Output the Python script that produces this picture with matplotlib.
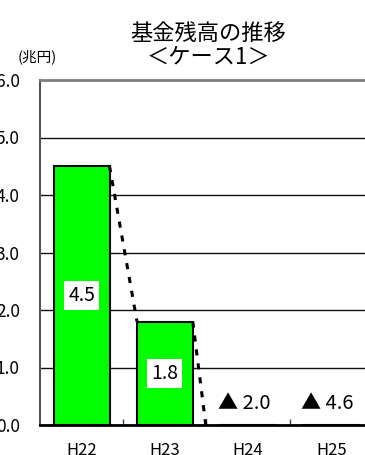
import matplotlib
matplotlib.use("Agg")
import matplotlib.pyplot as plt

plt.rcParams['font.family'] = ['Noto Sans CJK JP', 'DejaVu Sans']

categories = ["H22", "H23", "H24", "H25"]
balances = [4.5, 1.8, -2.0, -4.6]
yticks = [0.0, 1.0, 2.0, 3.0, 4.0, 5.0, 6.0]
title = "基金残高の推移\n＜ケース1＞"
unit = "(兆円)"

fig = plt.figure(figsize=(3.65, 4.55), dpi=100)
ax = fig.add_axes([40 / 365, 30 / 455, 333 / 365, 345 / 455])

x = list(range(len(categories)))
bar_w = 0.67
ax.bar(x, balances, width=bar_w, color="#00ff00", edgecolor="black",
       linewidth=1.5, zorder=3)

# series lines joining neighbouring bar tops
for i in range(len(balances) - 1):
    ax.plot([i + bar_w / 2, i + 1 - bar_w / 2], [balances[i], balances[i + 1]],
            color="black", linewidth=2.2, linestyle=(0, (2.0, 2.6)),
            zorder=4, solid_capstyle="butt")

# value labels
for i, v in enumerate(balances):
    if v >= 0:
        ax.text(i, v / 2, f"{v:.1f}", ha="center", va="center", fontsize=14,
                zorder=5,
                bbox=dict(boxstyle="square,pad=0.2", facecolor="white",
                          edgecolor="none"))
    else:
        ax.text(i - 0.05, 0.38, f"▲ {abs(v):.1f}", ha="center", va="center",
                fontsize=14.5, zorder=5)

ax.set_xlim(-0.5, 3.5)
ax.set_ylim(0, 6)
ax.set_yticks(yticks)
ax.set_yticklabels([f"{t:.1f}" for t in yticks], fontsize=12.5)
ax.set_xticks(x)
ax.set_xticklabels(categories, fontsize=12)
ax.set_xticks([0.5, 1.5, 2.5], minor=True)
ax.tick_params(axis="y", length=0, pad=14.5)
ax.tick_params(axis="x", which="major", length=0, pad=12)
ax.tick_params(axis="x", which="minor", length=4, width=1, direction="in",
               color="#444444")

ax.yaxis.grid(True, color="#111111", linewidth=1.0, zorder=0)
ax.set_axisbelow(True)

ax.spines["top"].set_color("#808080")
ax.spines["top"].set_linewidth(2)
ax.spines["left"].set_color("#555555")
ax.spines["left"].set_linewidth(1.5)
ax.spines["bottom"].set_color("black")
ax.spines["bottom"].set_linewidth(2)
ax.spines["right"].set_visible(False)

fig.text(208 / 365, 1 - 46 / 455, title, ha="center", va="center",
         fontsize=16, linespacing=1.0)
fig.text(37 / 365, 1 - 57 / 455, unit, ha="center", va="center", fontsize=10.5)

fig.savefig("out.png", dpi=100)
